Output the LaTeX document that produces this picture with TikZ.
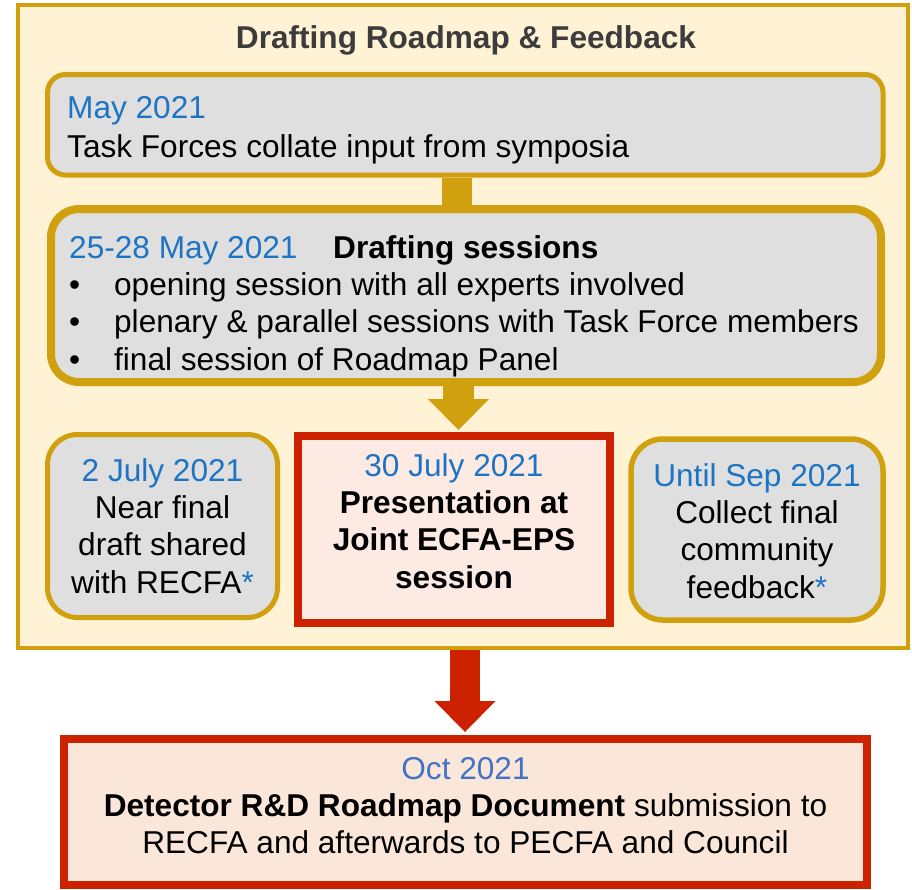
\documentclass[tikz,border=0pt]{standalone}
\usepackage{fontspec}
\setmainfont{Liberation Sans}
\usetikzlibrary{arrows.meta}
\definecolor{gold}{HTML}{D0A00E}
\definecolor{cream}{HTML}{FFF2D5}
\definecolor{boxgrey}{HTML}{DFDFDF}
\definecolor{redline}{HTML}{CC2200}
\definecolor{pinkfill}{HTML}{FCEAE3}
\definecolor{octfill}{HTML}{FBE7DA}
\definecolor{dateblue}{HTML}{1E74C4}
\definecolor{octblue}{HTML}{4472C4}
\definecolor{titlegrey}{HTML}{3C3C3C}
\tikzstyle{framebox} = [draw=gold, fill=cream, line width=3.5pt, inner sep=0pt]
\tikzstyle{goldbox} = [draw=gold, fill=boxgrey, line width=5pt, inner sep=0pt]
\tikzstyle{redbox} = [draw=redline, line width=8pt, inner sep=0pt]
\tikzstyle{boxtext} = [inner sep=0pt, font=\fontsize{31.6}{37.3}\selectfont]
\tikzstyle{bigarrow} = [line width=31pt,
    -{Triangle[width=61pt 0 0, length=31pt 0 0, line width=0pt]}]
\newcommand{\datetext}[1]{\textcolor{dateblue}{#1}}

\begin{document}
\begin{tikzpicture}[x=1pt,y=-1pt]
\path[use as bounding box, fill=white] (0,0) rectangle (912,889);

\node[framebox, minimum width=890pt, minimum height=643pt] (frame) at (463,326.5) {};
\node[boxtext, anchor=north, text=titlegrey,
    font=\fontsize{31.6}{37.3}\selectfont\bfseries] (title) at (466,25) {Drafting Roadmap \& Feedback};

\node[goldbox, rounded corners=18pt, minimum width=835.5pt, minimum height=100.5pt] (maybox) at (465.25,124.75) {};
\node[boxtext, anchor=north west, align=left, font=\fontsize{31.6}{39}\selectfont] (maytext) at (67,96) {%
    \datetext{May 2021}\\
    Task Forces collate input from symposia};

\node[goldbox, line width=8pt, rounded corners=28pt, minimum width=830pt, minimum height=173pt] (draftbox) at (466,295.5) {};
\node[boxtext, anchor=north west, align=left] (drafttext) at (69,235) {%
    \makebox[264pt][l]{\datetext{25-28 May 2021}}\textbf{Drafting sessions}\\
    \makebox[45pt][l]{\textbullet}opening session with all experts involved\\
    \makebox[45pt][l]{\textbullet}plenary \& parallel sessions with Task Force members\\
    \makebox[45pt][l]{\textbullet}final session of Roadmap Panel};

\node[goldbox, rounded corners=30pt, minimum width=230pt, minimum height=183pt] (julybox) at (162.5,526) {};
\node[boxtext, anchor=north, align=center] (julytext) at (162.5,458) {%
    \datetext{2 July 2021}\\
    Near final\\
    draft shared\\
    with RECFA\datetext{*}};

\node[redbox, fill=pinkfill, minimum width=312pt, minimum height=187pt] (presbox) at (454,529.5) {};
\node[boxtext, anchor=north, align=center] (prestext) at (454,453) {%
    \datetext{30 July 2021}\\
    \textbf{Presentation at}\\
    \textbf{Joint ECFA-EPS}\\
    \textbf{session}};

\node[goldbox, line width=5.5pt, rounded corners=32pt, minimum width=252pt, minimum height=181pt] (sepbox) at (757,529.5) {};
\node[boxtext, anchor=north, align=center] (septext) at (757,463) {%
    \datetext{Until Sep 2021}\\
    Collect final\\
    community\\
    feedback\datetext{*}};

\node[redbox, fill=octfill, minimum width=803pt, minimum height=146pt] (octbox) at (465.5,812) {};
\node[boxtext, anchor=north, align=center] (octtext) at (465.5,757) {%
    \textcolor{octblue}{Oct 2021}\\
    \textbf{Detector R\&D Roadmap Document} submission to\\
    RECFA and afterwards to PECFA and Council};

\draw[gold, line width=30pt] ([xshift=-8pt]maybox.south) -- ([xshift=-8pt]maybox.south |- draftbox.north);
\draw[gold, bigarrow, shorten >=2pt] ([xshift=-7.5pt]draftbox.south) -- ([xshift=4.5pt]presbox.north);
\draw[redline, bigarrow, line width=30pt, shorten >=3pt] ([xshift=2pt]frame.south) -- ([xshift=-0.5pt]octbox.north);
\end{tikzpicture}
\end{document}
